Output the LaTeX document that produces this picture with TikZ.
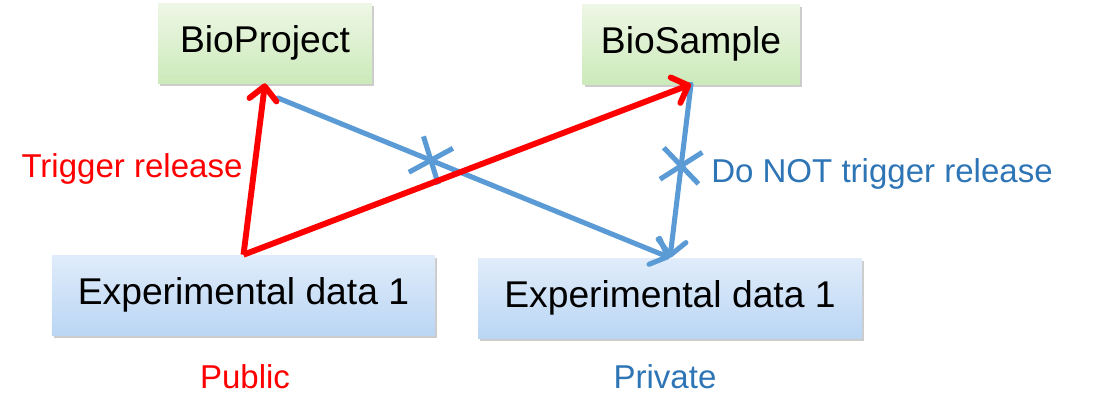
\documentclass[tikz,border=0pt]{standalone}
\usepackage{fontspec}
\setmainfont{Liberation Sans}
\usetikzlibrary{arrows.meta,shadows,shapes.misc}

\definecolor{lineblue}{RGB}{91,155,213}
\definecolor{textblue}{RGB}{46,117,182}
\definecolor{greentop}{RGB}{238,247,230}
\definecolor{greenbot}{RGB}{204,234,186}
\definecolor{bluetop}{RGB}{224,236,250}
\definecolor{bluebot}{RGB}{186,214,244}

\tikzset{
  dbbox/.style={minimum height=2cm, inner sep=0pt,
    drop shadow={shadow xshift=1.5pt, shadow yshift=-2pt, fill=black!40},
    font=\fontsize{26.5}{30}\selectfont},
  archive/.style={dbbox, top color=greentop, bottom color=greenbot},
  dataset/.style={dbbox, top color=bluetop, bottom color=bluebot},
  label/.style={font=\fontsize{23.5}{28}\selectfont, anchor=base},
  release/.style={line width=4.2pt, red, -{Straight Barb[round,length=3.4mm,width=6.8mm]}},
  norelease/.style={line width=3.6pt, lineblue, line cap=round, -{Straight Barb[round,length=3.6mm,width=7mm]}},
  nocross/.style={cross out, draw=lineblue, line width=3.6pt, line cap=butt, sloped,
    minimum width=19pt, minimum height=24pt, inner sep=0pt}
}

\begin{document}
\begin{tikzpicture}[x=0.25mm,y=-0.25mm]

\useasboundingbox (0,0) rectangle (1113,417);

% Boites
\node[archive, minimum width=5.35cm] (proj) at (265,43) {BioProject};
\node[archive, minimum width=5.42cm] (samp) at (691,44) {BioSample};
\node[dataset, minimum width=9.58cm] (expPub) at (243.5,295) {Experimental data 1};
\node[dataset, minimum width=9.6cm] (expPriv) at (670,298) {Experimental data 1};

\coordinate (projOut) at (278,98);

% Fleches bleues (pas de publication)
\draw[norelease] (projOut) -- node[nocross, pos=0.39] (crossA) {} (expPriv.north);
\draw[norelease] (samp.south) -- node[nocross, pos=0.47] (crossB) {} (expPriv.north);

% Fleches rouges
\draw[release] (expPub.north) -- (proj.south);
\draw[release] (expPub.north) -- (samp.south);

\node[label, red] (trig) at (132,177) {Trigger release};
\node[label, textblue] (notrig) at (882,182) {Do NOT trigger release};
\node[label, red] (pub) at (245,388) {Public};
\node[label, textblue] (priv) at (665,388) {Private};

\end{tikzpicture}
\end{document}
